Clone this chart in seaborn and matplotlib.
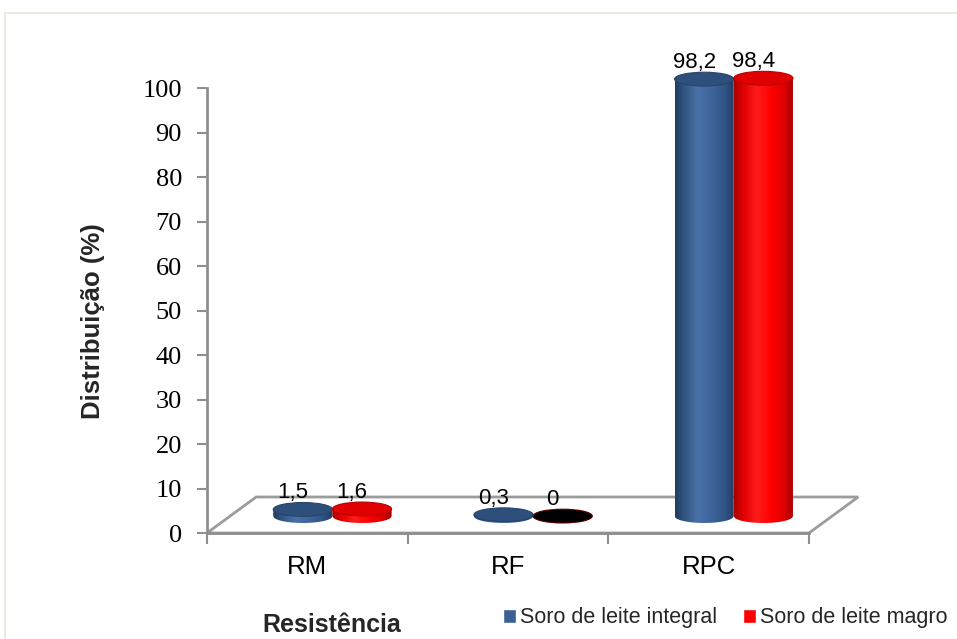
import numpy as np
import pandas as pd
import matplotlib
matplotlib.use("Agg")
import matplotlib.pyplot as plt
import seaborn as sns
from matplotlib.patches import Polygon, Ellipse, Rectangle, Patch
from matplotlib.colors import LinearSegmentedColormap

# ---- data -------------------------------------------------------------
categories = ["RM", "RF", "RPC"]
series_names = ["Soro de leite integral", "Soro de leite magro"]
soro_integral = [1.5, 0.3, 98.2]
soro_magro = [1.6, 0.0, 98.4]
labels_integral = ["1,5", "0,3", "98,2"]
labels_magro = ["1,6", "0", "98,4"]
y_ticks = [0, 10, 20, 30, 40, 50, 60, 70, 80, 90, 100]

BLUE = "#3a6096"
RED = "#ff0000"

df = pd.DataFrame({
    "Resistência": categories * 2,
    "Distribuição": soro_integral + soro_magro,
    "Soro": [series_names[0]] * 3 + [series_names[1]] * 3,
})
value_text = {
    (series_names[0], c): t for c, t in zip(categories, labels_integral)
}
value_text.update({(series_names[1], c): t for c, t in zip(categories, labels_magro)})

sns.set_theme(style="white")
plt.rcParams["font.family"] = ["Liberation Sans", "DejaVu Sans"]

W, H = 957, 639
fig = plt.figure(figsize=(W / 100, H / 100), dpi=100)
ax = fig.add_axes([207 / W, 1 - 533 / H, (809 - 207) / W, (533 - 88) / H])

sns.barplot(data=df, x="Resistência", y="Distribuição", hue="Soro",
            order=categories, hue_order=series_names,
            palette=[BLUE, RED], width=0.59, saturation=1,
            legend=False, ax=ax)

ax.set_xlim(-0.5, 2.5)
ax.set_ylim(0, 100)

# ---- pseudo-3D floor ---------------------------------------------------
px_per_unit = 445 / 100.0
depth_x = 0.245
depth_y = 36 / px_per_unit
floor = Polygon([(-0.5, 0), (2.5, 0), (2.5 + depth_x, depth_y), (-0.5 + depth_x, depth_y)],
                closed=True, facecolor="white", edgecolor="#9c9c9c", lw=2,
                zorder=0.5, clip_on=False)
ax.add_patch(floor)

# ---- cylinders ---------------------------------------------------------
shift = 0.125          # bars stand in the middle of the floor depth
base = 3.8             # vertical lift of the bar base (depth)
eh = 3.1               # ellipse height of cylinder caps, data units

cmaps = {
    BLUE: LinearSegmentedColormap.from_list("cyl_b", [
        (0.0, "#223b60"), (0.15, "#31547f"), (0.38, "#4a72a8"),
        (0.62, "#3d649a"), (0.85, "#2f5283"), (1.0, "#213a5e")]),
    RED: LinearSegmentedColormap.from_list("cyl_r", [
        (0.0, "#a80000"), (0.15, "#e00000"), (0.38, "#ff1c1c"),
        (0.62, "#ff0000"), (0.85, "#dc0000"), (1.0, "#a00000")]),
}
caps = {BLUE: ("#2e4f7c", "#274469"), RED: ("#e00000", "#bb0000")}

grad = np.linspace(0, 1, 256)[np.newaxis, :]

bars = []
for patch in ax.patches:
    if isinstance(patch, Rectangle) and patch.get_width() < 1:
        bars.append(patch)

n_cat = len(categories)
z = 2.0
for i, patch in enumerate(bars):
    fc = patch.get_facecolor()
    key = BLUE if np.allclose(fc[:3], matplotlib.colors.to_rgb(BLUE)) else RED
    series = series_names[0] if key == BLUE else series_names[1]
    cat = categories[i % n_cat]
    v = patch.get_height()
    w = patch.get_width()
    xl = patch.get_x() + shift
    xr = xl + w
    xc = xl + w / 2
    top = base + v
    patch.set_visible(False)

    xs = np.linspace(xl, xr, 80)
    ys = base - eh / 2 * np.sqrt(np.clip(1 - ((xs - xc) / (w / 2)) ** 2, 0, 1))
    verts = [(xl, top)] + list(zip(xs, ys)) + [(xr, top)]
    clip = Polygon(verts, closed=True, transform=ax.transData)

    im = ax.imshow(grad, extent=[xl, xr, base - eh / 2, top], cmap=cmaps[key],
                   aspect="auto", interpolation="bicubic", origin="lower", zorder=z)
    im.set_clip_box(fig.bbox)
    im.set_clip_path(clip)

    cap_fc, cap_ec = caps[key]
    if v == 0:
        cap_fc, cap_ec = "#000000", "#5a0000"
    ax.add_patch(Ellipse((xc, top), w, eh, facecolor=cap_fc, edgecolor=cap_ec,
                         lw=0.8, zorder=z + 0.05, clip_on=False))
    z += 0.1

    ax.annotate(value_text[(series, cat)], xy=(xc, top + eh / 2),
                xytext=(-7.2, 3), textcoords="offset points",
                ha="center", va="baseline", fontsize=16, color="black",
                annotation_clip=False, zorder=10)

ax.set_xlim(-0.5, 2.5)
ax.set_ylim(0, 100)

# ---- axes styling ------------------------------------------------------
sns.despine(ax=ax)
ax.set_facecolor("white")
ax.patch.set_alpha(0)
for side in ("left", "bottom"):
    ax.spines[side].set_color("#8f8f8f")
    ax.spines[side].set_linewidth(2)
ax.spines["bottom"].set_zorder(0.6)

ax.set_yticks(y_ticks)
ax.set_yticklabels([str(t) for t in y_ticks])
ax.tick_params(axis="y", which="major", left=True, direction="out", length=7,
               width=1.5, color="#8f8f8f", pad=11, labelsize=19, labelcolor="black")
for lab in ax.get_yticklabels():
    lab.set_fontfamily("Liberation Serif")

ax.set_xticks(range(len(categories)))
ax.set_xticklabels(categories)
ax.set_xticks([-0.5, 0.5, 1.5, 2.5], minor=True)
ax.tick_params(axis="x", which="major", bottom=True, length=0, pad=16,
               labelsize=18.5, labelcolor="black")
ax.tick_params(axis="x", which="minor", bottom=True, direction="out", length=8,
               width=1.5, color="#8f8f8f")
ax.set_xlabel("")
ax.set_ylabel("")
ax.grid(False)

# ---- titles and legend -------------------------------------------------
fig.text(93 / W, 1 - 321 / H, "Distribuição (%)", rotation=90, ha="center",
         va="center", fontsize=18.5, fontweight="bold")
fig.text(332 / W, 7 / H, "Resistência", ha="center", va="baseline",
         fontsize=18, fontweight="bold")

handles = [Patch(facecolor=BLUE), Patch(facecolor=RED)]
fig.legend(handles, series_names, loc="center left",
           bbox_to_anchor=(503 / W, 1 - 618 / H), ncol=2, frameon=False,
           fontsize=15.5, handlelength=0.6, handleheight=0.6,
           handletextpad=0.2, columnspacing=1.2, borderpad=0, borderaxespad=0)

# light outer frame of the chart area
fig.add_artist(Rectangle((5 / W, -0.05), 1.2, 1 - 13 / H + 0.05,
                         transform=fig.transFigure, fill=False,
                         edgecolor="#ebe9e2", lw=1.5))

fig.savefig("out.png", dpi=100, facecolor="white")
